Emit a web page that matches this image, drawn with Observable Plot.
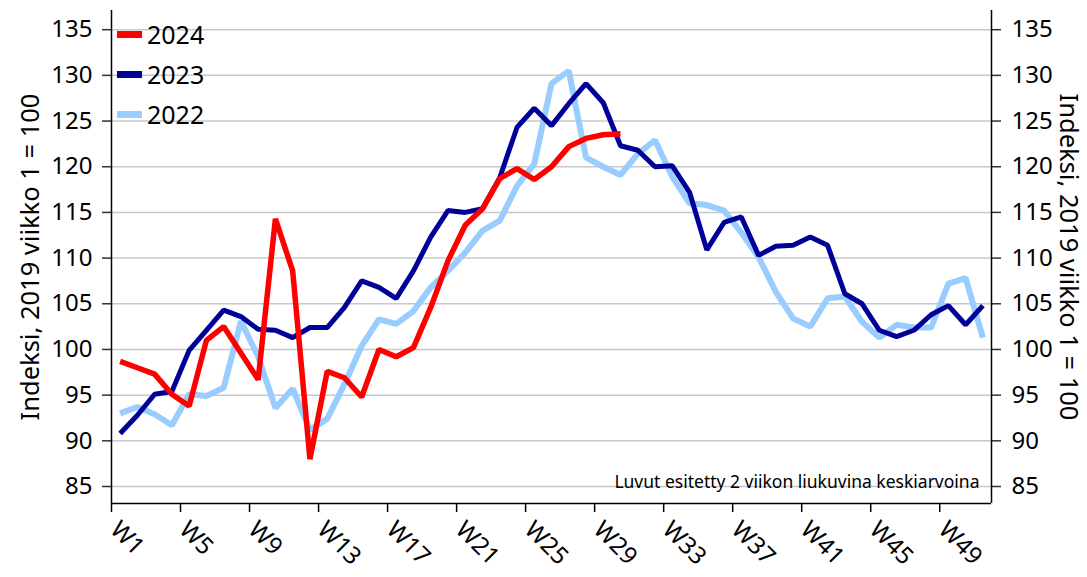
<!DOCTYPE html>
<html>
<head>
<meta charset="utf-8">
<script src="https://cdn.jsdelivr.net/npm/d3@7"></script>
<script src="https://cdn.jsdelivr.net/npm/@observablehq/plot@0.6"></script>
<style>
  html, body { margin: 0; padding: 0; background: #fff; }
  #wrap { position: relative; width: 1087px; height: 577px; font-family: "Noto Sans", sans-serif; }
  #legend { position: absolute; left: 117px; top: 14px; }
  .item { display: flex; align-items: center; height: 40px; font-size: 25px; color: #000; }
  .sw { width: 25px; height: 7px; margin-right: 5px; }
</style>
</head>
<body>
<div id="wrap"><div id="legend"></div></div>
<script>
const weeks = [1,2,3,4,5,6,7,8,9,10,11,12,13,14,15,16,17,18,19,20,21,22,23,24,25,26,27,28,29,30,31,32,33,34,35,36,37,38,39,40,41,42,43,44,45,46,47,48,49,50,51];
const weekTickLabels = ["W1","W5","W9","W13","W17","W21","W25","W29","W33","W37","W41","W45","W49"];
const weekTickNumbers = [1,5,9,13,17,21,25,29,33,37,41,45,49];
const yTicks = [85,90,95,100,105,110,115,120,125,130,135];

const v2024 = [98.7,98.0,97.3,95.1,93.8,101.0,102.5,99.6,96.7,114.3,108.6,88.0,97.6,96.9,94.8,100.0,99.2,100.2,104.6,109.7,113.6,115.4,118.7,119.8,118.6,120.0,122.2,123.1,123.5,123.6];
const v2023 = [90.8,92.8,95.1,95.4,99.9,102.1,104.3,103.6,102.2,102.1,101.3,102.4,102.4,104.6,107.5,106.8,105.6,108.6,112.3,115.2,115.0,115.4,118.8,124.3,126.4,124.5,126.9,129.1,127.0,122.3,121.8,120.0,120.1,117.2,110.9,113.9,114.5,110.3,111.3,111.4,112.3,111.4,106.1,105.0,102.1,101.4,102.1,103.8,104.8,102.7,104.8];
const v2022 = [93.0,93.7,92.9,91.7,95.1,94.9,95.8,103.1,99.2,93.6,95.7,91.2,92.4,96.2,100.4,103.3,102.8,104.2,106.8,108.6,110.6,113.0,114.1,117.9,120.3,129.1,130.5,121.0,120.0,119.1,121.4,122.9,118.9,116.0,115.8,115.2,112.8,110.1,106.3,103.4,102.5,105.6,105.8,103.0,101.3,102.7,102.4,102.4,107.2,107.8,101.3];

const seriesNames = ["2024","2023","2022"];
const seriesColors = ["#ff0000","#000099","#99ccff"];

const yAxisTitle = "Indeksi, 2019 viikko 1 = 100";
const note = "Luvut esitetty 2 viikon liukuvina keskiarvoina";

const rows = (vals, name) => vals.map((v, i) => ({week: weeks[i], value: v, series: name}));
const d2024 = rows(v2024, "2024");
const d2023 = rows(v2023, "2023");
const d2022 = rows(v2022, "2022");

const xDomain = [0.5, weeks.length + 0.5];
const yDomain = [83.14, 137.1];
const xTicks = weekTickNumbers.map((w, i) => ({pos: w - 0.5, label: weekTickLabels[i]}));

const chart = Plot.plot({
  width: 1087,
  height: 577,
  marginLeft: 111,
  marginRight: 96,
  marginTop: 10,
  marginBottom: 74,
  style: {fontFamily: "'Noto Sans', sans-serif", background: "#fff", color: "#000"},
  x: {type: "linear", domain: xDomain, axis: null},
  y: {domain: yDomain, axis: null},
  marks: [
    Plot.gridY(yTicks, {stroke: "#c8c8c8", strokeOpacity: 1, strokeWidth: 1.5}),
    Plot.axisY({anchor: "left", ticks: yTicks, tickSize: 9, tickPadding: 10, fontSize: 24, label: null, stroke: "#333", strokeWidth: 1.5}),
    Plot.axisY({anchor: "right", ticks: yTicks, tickSize: 9, tickPadding: 11, fontSize: 24, label: null, stroke: "#333", strokeWidth: 1.5}),
    Plot.axisX({anchor: "bottom", ticks: xTicks.map(d => d.pos), tickFormat: () => "", tickSize: 9, label: null, stroke: "#000", strokeWidth: 1.5}),
    Plot.text(xTicks, {x: "pos", text: "label", frameAnchor: "bottom", rotate: 45, textAnchor: "start", lineAnchor: "middle", dx: 3, dy: 22, fontSize: 24, fill: "#000"}),
    Plot.ruleX(xDomain, {stroke: "#000", strokeWidth: 1.5}),
    Plot.ruleY([yDomain[0]], {stroke: "#000", strokeWidth: 1.5}),
    Plot.lineY(d2022, {x: "week", y: "value", stroke: seriesColors[2], strokeWidth: 6, strokeLinejoin: "miter", strokeLinecap: "butt"}),
    Plot.lineY(d2023, {x: "week", y: "value", stroke: seriesColors[1], strokeWidth: 5, strokeLinejoin: "miter", strokeLinecap: "butt"}),
    Plot.lineY(d2024, {x: "week", y: "value", stroke: seriesColors[0], strokeWidth: 5.5, strokeLinejoin: "miter", strokeLinecap: "butt"}),
    Plot.text([note], {text: d => d, frameAnchor: "bottom-right", textAnchor: "end", lineAnchor: "bottom", dx: -12, dy: -16, fontSize: 17.5, fill: "#000"}),
    Plot.text([yAxisTitle], {text: d => d, frameAnchor: "left", textAnchor: "middle", rotate: -90, dx: -81, fontSize: 25.5, fill: "#000"}),
    Plot.text([yAxisTitle], {text: d => d, frameAnchor: "right", textAnchor: "middle", rotate: 90, dx: 77, fontSize: 25.5, fill: "#000"})
  ]
});

const wrap = document.getElementById("wrap");
wrap.insertBefore(chart, wrap.firstChild);

const legend = document.getElementById("legend");
seriesNames.forEach((name, i) => {
  const item = document.createElement("div");
  item.className = "item";
  const sw = document.createElement("span");
  sw.className = "sw";
  sw.style.background = seriesColors[i];
  const label = document.createElement("span");
  label.textContent = name;
  item.appendChild(sw);
  item.appendChild(label);
  legend.appendChild(item);
});
</script>
</body>
</html>
